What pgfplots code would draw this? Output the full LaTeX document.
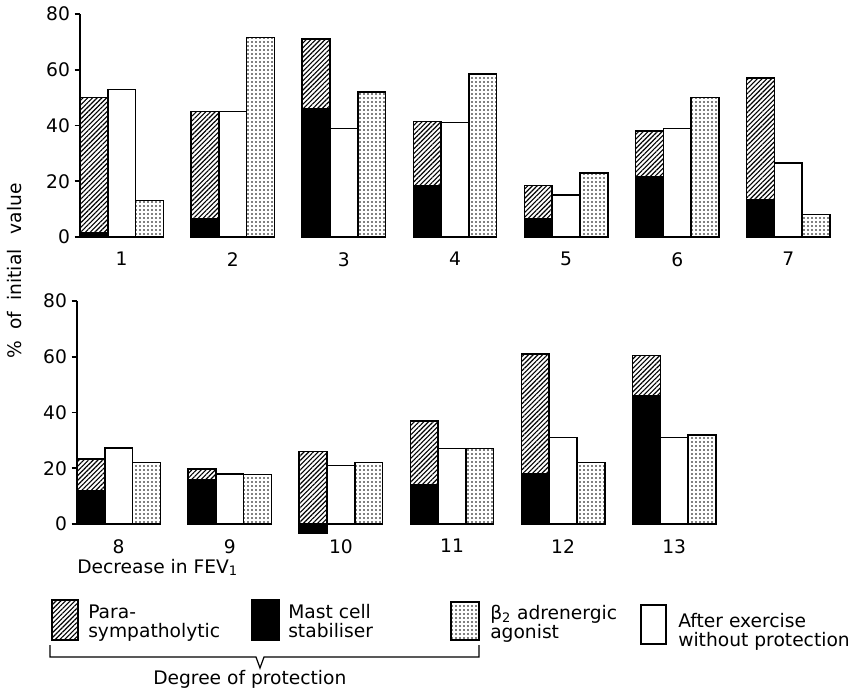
\documentclass[border=0pt]{standalone}
\usepackage{fontspec}
\setmainfont{DejaVu Sans}
\usepackage{pgfplots}
\pgfplotsset{compat=1.18}
\usetikzlibrary{patterns.meta}
\newcommand\lf{\fontsize{14}{16}\selectfont}
\tikzset{
  hatchp/.style={pattern={Lines[angle=45,distance=2.5pt,line width=0.85pt]}},
  dotp/.style={pattern={Dots[radius=0.6pt,distance=3pt]}},
}
\pgfplotsset{
  panel/.style={
    scale only axis, width=562.5pt, height=167.25pt,
    xmin=2.5, xmax=29.5, ymin=0, ymax=80, clip=false,
    axis y line*=left, axis x line*=bottom,
    x axis line style={draw=none},
    y axis line style={-, line width=1.2pt},
    ytick={0,20,40,60,80},
    tick align=outside,
    major tick length=4pt,
    ytick style={line width=1.2pt, black},
    xtick style={draw=none},
    tick label style={font=\lf},
    xticklabel style={yshift=-4pt},
    /pgf/number format/assume math mode=true,
  },
  bars/.style={ybar, bar width=1, bar shift=0pt, draw=black, line width=1.1pt},
}
\begin{document}
\begin{tikzpicture}
\path[use as bounding box] (0,0) rectangle (639.75pt,517.5pt);
% top panel: groups 1-7
\begin{axis}[panel, at={(60pt,339.75pt)}, anchor=south west,
  xtick={4,8,12,16,20,24,28}, xticklabels={1,2,3,4,5,6,7}]
\addplot[bars, hatchp] coordinates {(3,50) (7,45) (11,71) (15,41.5) (19,18.5) (23,38) (27,57)};
\addplot[bars, fill=black] coordinates {(3,1.5) (7,6.5) (11,46) (15,18.5) (19,6.5) (23,21.5) (27,13.5)};
\addplot[bars, fill=white] coordinates {(4,53) (8,45) (12,39) (16,41) (20,15) (24,39) (28,26.5)};
\addplot[bars, dotp] coordinates {(5,13) (9,71.5) (13,52) (17,58.5) (21,23) (25,50) (29,8)};
\end{axis}
% bottom panel: groups 8-13
\begin{axis}[panel, at={(57.75pt,124.5pt)}, anchor=south west,
  xtick={4,8,12,16,20,24}, xticklabels={8,9,10,11,12,13}]
\addplot[bars, hatchp] coordinates {(3,23.3) (7,19.7) (11,26) (15,37) (19,61) (23,60.5)};
\addplot[bars, fill=black] coordinates {(3,11.8) (7,15.8) (11,-3.5) (15,14) (19,18) (23,46)};
\addplot[bars, fill=white] coordinates {(4,27.2) (8,17.9) (12,21) (16,27) (20,31) (24,31)};
\addplot[bars, dotp] coordinates {(5,22) (9,17.8) (13,22) (17,27) (21,22) (25,32)};
\end{axis}
\begin{scope}[x=0.75pt,y=-0.75pt,shift={(0pt,517.5pt)}]
\node[rotate=90, font=\lf, inner sep=0pt] at (15,271) {\%\hspace{0.6em}of\hspace{0.6em}initial\hspace{0.8em}value};
\node[anchor=base west, font=\lf, inner sep=0pt] at (77,573) {Decrease in FEV\textsubscript{1}};
% legend
\draw[line width=1pt, hatchp] (52,600) rectangle (78,640);
\node[anchor=base west, font=\lf, inner sep=0pt] at (88,618) {Para-};
\node[anchor=base west, font=\lf, inner sep=0pt] at (88,637) {sympatholytic};
\draw[line width=1pt, fill=black] (252,600) rectangle (279,640);
\node[anchor=base west, font=\lf, inner sep=0pt] at (288,618) {Mast cell};
\node[anchor=base west, font=\lf, inner sep=0pt] at (288,637) {stabiliser};
\draw[line width=1pt, dotp] (451,602) rectangle (479,640);
\node[anchor=base west, font=\lf, inner sep=0pt] at (490,619) {β\textsubscript{2} adrenergic};
\node[anchor=base west, font=\lf, inner sep=0pt] at (490,638) {agonist};
\draw[line width=1pt, fill=white] (641,605) rectangle (666,644);
\node[anchor=base west, font=\lf, inner sep=0pt] at (678,627) {After exercise};
\node[anchor=base west, font=\lf, inner sep=0pt] at (678,646) {without protection};
% brace
\draw[line width=0.9pt] (50,645) -- (50,657) -- (256,657) -- (260,668) -- (264,657) -- (479,657) -- (479,645);
\node[anchor=base west, font=\lf, inner sep=0pt] at (153,684) {Degree of protection};
\end{scope}
\end{tikzpicture}
\end{document}
